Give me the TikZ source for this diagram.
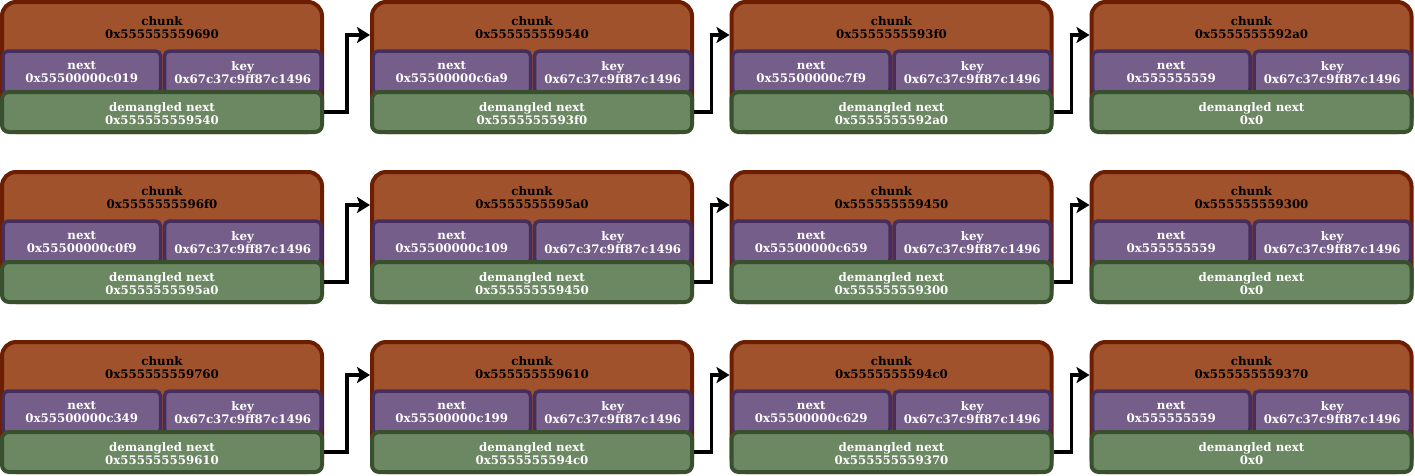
\documentclass[tikz,border=0pt]{standalone}
\usepackage{fontspec}
\setmainfont{DejaVu Serif}
\usetikzlibrary{arrows.meta,calc}
\definecolor{chunkfill}{HTML}{A0522D}
\definecolor{chunkline}{HTML}{6B1E00}
\definecolor{purfill}{HTML}{765E8A}
\definecolor{purline}{HTML}{452D5C}
\definecolor{grnfill}{HTML}{6C8863}
\definecolor{grnline}{HTML}{38502D}
\tikzset{
  every node/.style={font=\fontsize{11.8}{13}\selectfont\bfseries, align=center, inner sep=0pt},
  chunkbox/.style={draw=chunkline, fill=chunkfill, line width=4pt, rounded corners=14pt, minimum width=320pt, minimum height=130pt, anchor=north west},
  fieldbox/.style={draw=purline, fill=purfill, line width=3.5pt, rounded corners=5pt, minimum height=43pt, anchor=north west, text=white},
  dembox/.style={draw=grnline, fill=grnfill, line width=4pt, rounded corners=7pt, minimum width=320pt, minimum height=40pt, anchor=north west},
  hdr/.style={text=black},
  demtext/.style={text=white},
  link/.style={draw=black, line width=3.3pt, -{Stealth[length=13pt,width=16pt,inset=3pt]}}
}
\newcommand\mkchunk[7]{%
  \node[chunkbox] (c#1) at (#2,#3) {};
  \node[hdr] (h#1) at ({#2+162},{#3+27.5}) {chunk\\#4};
  \node[fieldbox, minimum width=157.5pt] (n#1) at ({#2+1.25},{#3+49.25}) {next\\#5};
  \node[fieldbox, minimum width=156.5pt] (k#1) at ({#2+162.75},{#3+49.25}) {key\\#6};
  \node[dembox] (g#1) at ({#2},{#3+90}) {};
  \node[demtext] (d#1) at ({#2+162},{#3+113.5}) {demangled next\\#7};
}
\newcommand\mklink[2]{%
  \coordinate (m#1) at ($(g#1.east)!0.5!(c#2.west)$);
  \coordinate (t#2) at ([yshift=-35pt]c#2.north west);
  \draw[link] (g#1.east) -- (m#1 |- g#1.east) -- (m#1 |- t#2) -- (t#2);
}
\begin{document}
\begin{tikzpicture}[x=1pt,y=-1pt]
\useasboundingbox (0,0) rectangle (1415,475);
\def\K{0x67c37c9ff87c1496}
% row 1
\mkchunk{11}{0}{0}{0x555555559690}{0x55500000c019}{\K}{0x555555559540}
\mkchunk{12}{370}{0}{0x555555559540}{0x55500000c6a9}{\K}{0x5555555593f0}
\mkchunk{13}{729.5}{0}{0x5555555593f0}{0x55500000c7f9}{\K}{0x5555555592a0}
\mkchunk{14}{1089.5}{0}{0x5555555592a0}{0x555555559}{\K}{0x0}
% row 2
\mkchunk{21}{0}{170}{0x5555555596f0}{0x55500000c0f9}{\K}{0x5555555595a0}
\mkchunk{22}{370}{170}{0x5555555595a0}{0x55500000c109}{\K}{0x555555559450}
\mkchunk{23}{729.5}{170}{0x555555559450}{0x55500000c659}{\K}{0x555555559300}
\mkchunk{24}{1089.5}{170}{0x555555559300}{0x555555559}{\K}{0x0}
% row 3
\mkchunk{31}{0}{340}{0x555555559760}{0x55500000c349}{\K}{0x555555559610}
\mkchunk{32}{370}{340}{0x555555559610}{0x55500000c199}{\K}{0x5555555594c0}
\mkchunk{33}{729.5}{340}{0x5555555594c0}{0x55500000c629}{\K}{0x555555559370}
\mkchunk{34}{1089.5}{340}{0x555555559370}{0x555555559}{\K}{0x0}
% links
\mklink{11}{12}\mklink{12}{13}\mklink{13}{14}
\mklink{21}{22}\mklink{22}{23}\mklink{23}{24}
\mklink{31}{32}\mklink{32}{33}\mklink{33}{34}
\end{tikzpicture}
\end{document}
